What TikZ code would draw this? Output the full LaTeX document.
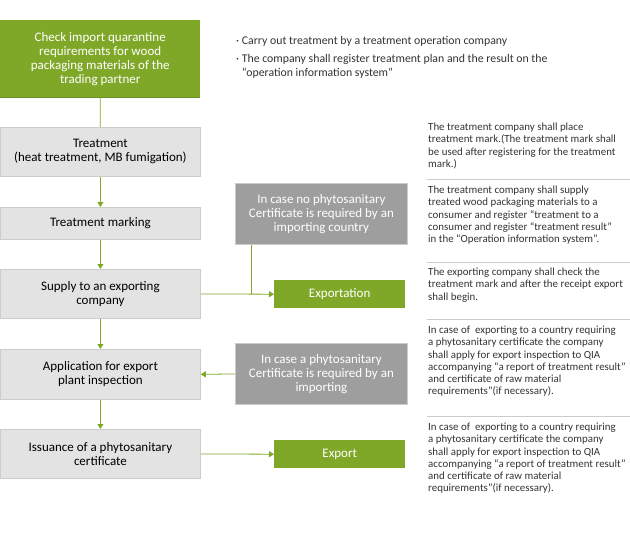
\documentclass[tikz,border=0pt]{standalone}
\usepackage{fontspec}
\setmainfont{Carlito}
\usetikzlibrary{arrows.meta}

\definecolor{leaf}{HTML}{80A828}
\definecolor{leafdark}{HTML}{6B8F20}
\definecolor{stepgray}{HTML}{E3E3E3}
\definecolor{stepline}{HTML}{CCCCCC}
\definecolor{casegray}{HTML}{9E9E9E}
\definecolor{notegray}{HTML}{333333}

\begin{document}
\begin{tikzpicture}[x=1pt,y=-1pt,
    stepbox/.style={anchor=north west,fill=stepgray,draw=stepline,line width=0.8pt,
      minimum width=200pt,inner sep=0pt,align=center,
      font=\fontsize{13}{14}\selectfont},
    leafbox/.style={anchor=north west,fill=leaf,text=white,inner sep=0pt,align=center,
      font=\fontsize{13}{14}\selectfont},
    casebox/.style={anchor=north west,fill=casegray,draw=stepline,line width=0.8pt,text=white,
      minimum width=172pt,minimum height=61pt,inner sep=0pt,align=center,
      font=\fontsize{13}{14}\selectfont},
    note/.style={anchor=north west,inner sep=0pt,align=left,text=notegray,
      font=\fontsize{10.9}{12.2}\selectfont},
    arr/.style={draw=leaf,line width=0.8pt,-{Triangle[length=5pt,width=6pt]}},
    link/.style={draw=leaf,line width=0.8pt},
    sep/.style={draw=stepline,line width=0.8pt}]
    \useasboundingbox (0,0) rectangle (630,546);

    % Main steps
    \node[leafbox,minimum width=200pt,minimum height=77pt] (check) at (0,20)
      {Check import quarantine\\requirements for wood\\packaging materials of the\\trading partner};
    \draw[leafdark,line width=0.8pt] (check.south west) -- (check.south east);
    \node[stepbox,minimum height=49pt] (treat) at (0,127) {Treatment\\(heat treatment, MB fumigation)};
    \node[stepbox,minimum height=32pt] (mark) at (0,207) {Treatment marking};
    \node[stepbox,minimum height=49pt] (supply) at (0,269) {Supply to an exporting\\company};
    \node[stepbox,minimum height=50pt] (apply) at (0,349) {Application for export\\plant inspection};
    \node[stepbox,minimum height=49pt] (issue) at (0,429) {Issuance of a phytosanitary\\certificate};

    % Cases and results
    \node[casebox] (nocert) at (235,183) {In case no phytosanitary\\Certificate is required by an\\importing country};
    \node[leafbox,minimum width=131pt,minimum height=28pt] (exportation) at (274,280) {Exportation};
    \node[casebox] (cert) at (235,343) {In case a phytosanitary\\Certificate is required by an\\importing};
    \node[leafbox,minimum width=131pt,minimum height=28pt] (export) at (274,440) {Export};

    % Connectors
    \draw[link] (check) -- (treat);
    \foreach \a/\b in {treat/mark,mark/supply,supply/apply,apply/issue}{
    \draw[arr] (\a) -- (\b);
    }
    \draw[arr] (supply.east) -- (exportation.west);
    \draw[link] ([xshift=16pt]nocert.south west) -- ([xshift=16pt]nocert.south west |- supply.east);
    \draw[arr] (cert.west) -- (apply.east);
    \draw[arr] (issue.east) -- (export.west);

    % Notes at the top
    \node[note,font=\fontsize{11.8}{14}\selectfont] (topa) at (236,36)
      {\textperiodcentered\ Carry out treatment by a treatment operation company};
    \node[note,font=\fontsize{11.8}{14}\selectfont] (topb) at (236,54)
      {\textperiodcentered\ The company shall register treatment plan and the result on the\\
       \hphantom{\textperiodcentered\ }“operation information system”};

    % Notes on the right
    \foreach \y in {179,262,319,416}{
    \draw[sep] (427,\y) -- (630,\y);
    }
    \node[note] (notea) at (428,123) {The treatment company shall place\\treatment mark.(The treatment mark shall\\be used after registering for the treatment\\mark.)};
    \node[note] (noteb) at (428,186) {The treatment company shall supply\\treated wood packaging materials to a\\consumer and register “treatment to a\\consumer and register “treatment result”\\in the “Operation information system”.};
    \node[note] (notec) at (428,268) {The exporting company shall check the\\treatment mark and after the receipt export\\shall begin.};
    \node[note] (noted) at (428,326) {In case of\ \ exporting to a country requiring\\a phytosanitary certificate the company\\shall apply for export inspection to QIA\\accompanying “a report of treatment result”\\and certificate of raw material\\requirements”(if necessary).};
    \node[note] (notee) at (428,423) {In case of\ \ exporting to a country requiring\\a phytosanitary certificate the company\\shall apply for export inspection to QIA\\accompanying “a report of treatment result”\\and certificate of raw material\\requirements”(if necessary).};
\end{tikzpicture}
\end{document}
